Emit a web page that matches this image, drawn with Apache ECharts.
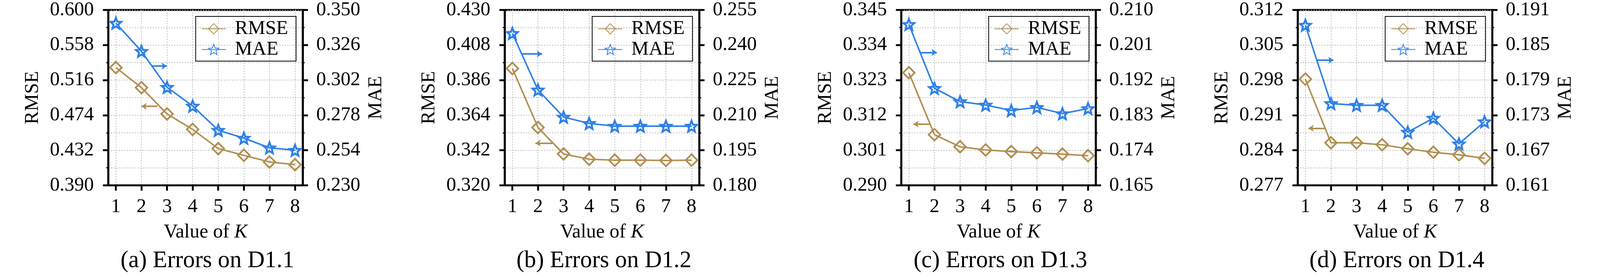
<!DOCTYPE html>
<html lang="en">
<head>
<meta charset="UTF-8">
<title>Errors vs K</title>
<style>
    html, body { margin: 0; padding: 0; background: #fff; overflow: hidden; }
    #chart { width: 100vw; height: 100vh; }
</style>
</head>
<body>
<div id="chart"></div>
<script src="https://cdn.jsdelivr.net/npm/echarts@6/dist/echarts.min.js"></script>
<script>
    // values
    var kValues = [1, 2, 3, 4, 5, 6, 7, 8];
    var panelTitles = ['(a) Errors on D1.1', '(b) Errors on D1.2', '(c) Errors on D1.3', '(d) Errors on D1.4'];

    var rmseD11 = [0.531, 0.507, 0.4755, 0.457, 0.434, 0.426, 0.418, 0.4148];
    var maeD11 = [0.341, 0.3217, 0.2971, 0.2843, 0.2677, 0.2623, 0.2557, 0.254];
    var rmseD12 = [0.3933, 0.3563, 0.3397, 0.3364, 0.3358, 0.3358, 0.3356, 0.3358];
    var maeD12 = [0.245, 0.2208, 0.2092, 0.2065, 0.2053, 0.2053, 0.2053, 0.2053];
    var rmseD13 = [0.3253, 0.3059, 0.3021, 0.3011, 0.3006, 0.3002, 0.2998, 0.2993];
    var maeD13 = [0.2063, 0.1899, 0.1865, 0.1856, 0.1842, 0.185, 0.1834, 0.1847];
    var rmseD14 = [0.2982, 0.2855, 0.2855, 0.2851, 0.2843, 0.2836, 0.2831, 0.2824];
    var maeD14 = [0.1884, 0.175, 0.1747, 0.1747, 0.1701, 0.1725, 0.1681, 0.1719];

    // axis ranges [min, max, interval]
    var rmseAxes = [[0.390, 0.600, 0.042], [0.320, 0.430, 0.022], [0.290, 0.345, 0.011], [0.277, 0.312, 0.007]];
    var maeAxes = [[0.230, 0.350, 0.024], [0.180, 0.255, 0.015], [0.165, 0.210, 0.009], [0.161, 0.191, 0.006]];

    // the little "which axis" arrows: [tail K, head K, value]
    var maeArrows = [[2.40, 2.99, 0.3116], [1.38, 2.16, 0.2362], [1.44, 2.09, 0.1991], [1.45, 2.10, 0.1824]];
    var rmseArrows = [[2.62, 2.00, 0.4846], [2.57, 1.90, 0.3465], [1.83, 1.18, 0.3092], [1.77, 1.12, 0.2884]];

    var rmseAll = [rmseD11, rmseD12, rmseD13, rmseD14];
    var maeAll = [maeD11, maeD12, maeD13, maeD14];

    var GOLD = '#b08f50';
    var BLUE = '#2f80e8';
    var FONT = "'Liberation Serif', 'Times New Roman', serif";
    var STAR = 'path://M0,-10 L2.6,-3.4 L9.51,-3.09 L4.2,1.4 L5.88,8.09 L0,4.4 L-5.88,8.09 L-4.2,1.4 L-9.51,-3.09 L-2.6,-3.4 Z';

    var dom = document.getElementById('chart');
    var chart = echarts.init(dom);
    // layout was measured on a 4252 x 704 canvas; scale it to whatever we got
    var sx = chart.getWidth() / 4252;
    var sy = chart.getHeight() / 704;
    var s = Math.min(sx, sy);

    function pairs(ys) {
        return ys.map(function (v, i) { return [kValues[i], v]; });
    }
    function fmt(v) { return v.toFixed(3); }

    var dotted = { type: [3 * s, 4 * s], color: '#b8b8b8', width: 2 * s };
    var labelStyle = { fontSize: 52 * s, fontFamily: FONT, color: '#000' };
    var axisLine = { show: true, onZero: false, lineStyle: { color: '#000', width: 5 * s } };
    var majorTick = { show: true, length: 14 * s, lineStyle: { color: '#000', width: 5 * s } };
    var minorTick = { show: true, splitNumber: 2, length: 5 * s, lineStyle: { color: '#000', width: 3 * s } };

    var grids = [], xAxes = [], yAxes = [], series = [], legends = [], titles = [];

    for (var i = 0; i < 4; i++) {
        var left = (287.5 + 1053.7 * i) * sx;
        var w = 517 * sx;
        grids.push({
            left: left, top: 25.5 * sy, width: w, height: 449 * sy,
            show: true, borderColor: '#000', borderWidth: 5 * s, backgroundColor: 'transparent'
        });
        xAxes.push({
            gridIndex: i, type: 'value', min: 0.7, max: 8.3,
            axisLine: axisLine,
            axisTick: Object.assign({ customValues: kValues }, majorTick),
            axisLabel: Object.assign({ customValues: kValues, margin: 30 * sy }, labelStyle),
            splitLine: { show: true, lineStyle: dotted },
            name: 'Value of {i|K}', nameLocation: 'middle', nameGap: 95 * sy,
            nameTextStyle: Object.assign({ rich: { i: { fontStyle: 'italic', fontSize: 52 * s, fontFamily: FONT, color: '#000' } } }, labelStyle)
        });
        var ra = rmseAxes[i], ma = maeAxes[i];
        yAxes.push({
            gridIndex: i, type: 'value', position: 'left', min: ra[0], max: ra[1], interval: ra[2],
            axisLine: axisLine, axisTick: majorTick, minorTick: minorTick,
            splitLine: { show: true, lineStyle: dotted },
            minorSplitLine: { show: true, lineStyle: dotted },
            axisLabel: Object.assign({ margin: 38 * sx, formatter: fmt }, labelStyle),
            name: 'RMSE', nameLocation: 'middle', nameGap: 175 * sx, nameTextStyle: labelStyle
        });
        yAxes.push({
            gridIndex: i, type: 'value', position: 'right', min: ma[0], max: ma[1], interval: ma[2],
            axisLine: axisLine, axisTick: majorTick, minorTick: minorTick,
            splitLine: { show: false },
            axisLabel: Object.assign({ margin: 36 * sx, formatter: fmt }, labelStyle),
            name: 'MAE', nameLocation: 'middle', nameGap: 169 * sx, nameTextStyle: labelStyle
        });

        var rArr = rmseArrows[i], mArr = maeArrows[i];
        series.push({
            name: 'RMSE', type: 'line', xAxisIndex: i, yAxisIndex: 2 * i,
            data: pairs(rmseAll[i]),
            symbol: 'diamond', symbolSize: 31 * s, showAllSymbol: true,
            lineStyle: { color: GOLD, width: 4 * s },
            itemStyle: { color: 'rgba(255,255,255,0)', borderColor: GOLD, borderWidth: 4.5 * s },
            markLine: {
                silent: true, animation: false, symbol: ['none', 'arrow'], symbolSize: 14 * s,
                label: { show: false },
                lineStyle: { color: GOLD, width: 4 * s, type: 'solid' },
                data: [[{ coord: [rArr[0], rArr[2]] }, { coord: [rArr[1], rArr[2]] }]]
            }
        });
        series.push({
            name: 'MAE', type: 'line', xAxisIndex: i, yAxisIndex: 2 * i + 1,
            data: pairs(maeAll[i]),
            symbol: STAR, symbolSize: 29 * s, showAllSymbol: true,
            lineStyle: { color: BLUE, width: 4 * s },
            itemStyle: { color: 'rgba(255,255,255,0)', borderColor: BLUE, borderWidth: 5 * s },
            markLine: {
                silent: true, animation: false, symbol: ['none', 'arrow'], symbolSize: 14 * s,
                label: { show: false },
                lineStyle: { color: BLUE, width: 4 * s, type: 'solid' },
                data: [[{ coord: [mArr[0], mArr[2]] }, { coord: [mArr[1], mArr[2]] }]]
            }
        });

        legends.push({
            orient: 'vertical', left: left + 232.5 * sx, top: 42 * sy,
            data: ['RMSE', 'MAE'], selectedMode: false,
            itemWidth: 64 * s, itemHeight: 34 * s, itemGap: 3 * s,
            padding: [7 * s, 21 * s, 5 * s, 15 * s],
            borderColor: '#000', borderWidth: 2 * s, borderRadius: 0,
            textStyle: Object.assign({ padding: [0, 0, 0, 19 * s] }, labelStyle)
        });
        titles.push({
            text: panelTitles[i], left: left + w / 2, top: 633 * sy, textAlign: 'center',
            textStyle: { fontSize: 63 * s, fontWeight: 'normal', fontFamily: FONT, color: '#000' }
        });
    }

    chart.setOption({
        animation: false,
        backgroundColor: '#fff',
        title: titles,
        legend: legends,
        grid: grids,
        xAxis: xAxes,
        yAxis: yAxes,
        series: series
    });
</script>
</body>
</html>
